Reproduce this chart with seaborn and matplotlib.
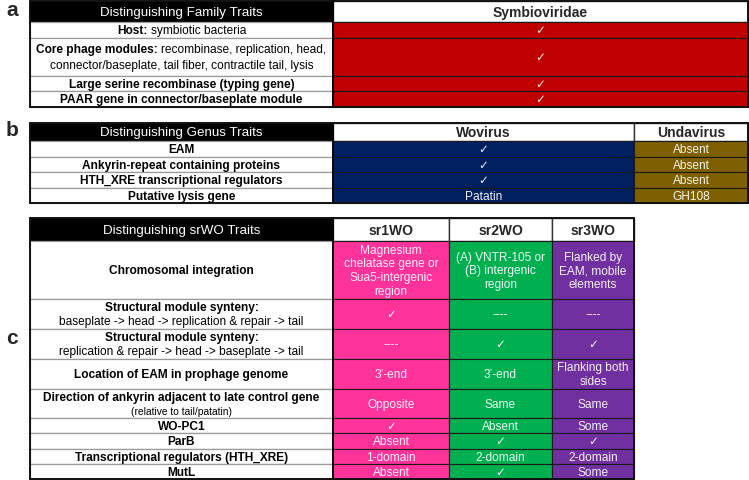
import numpy as np
import matplotlib
matplotlib.use("Agg")
import matplotlib.pyplot as plt
import seaborn as sns
from matplotlib.patches import Rectangle

sns.set_style("white")
plt.rcParams['font.family'] = ['Liberation Sans', 'DejaVu Sans']

CHECK = "\u2713"

# ---- DONNEES ----
# panel a : famille
family_header = "Distinguishing Family Traits"
family_cols = ["Symbioviridae"]
family_traits = [
    [[("Host:", "bold"), ("symbiotic bacteria", "normal")]],
    [[("Core phage modules:", "bold"), ("recombinase, replication, head,", "normal")],
     [("connector/baseplate, tail fiber, contractile tail, lysis", "normal")]],
    [[("Large serine recombinase (typing gene)", "bold")]],
    [[("PAAR gene in connector/baseplate module", "bold")]],
]
symbioviridae = [CHECK, CHECK, CHECK, CHECK]

# panel b : genres
genus_header = "Distinguishing Genus Traits"
genus_cols = ["Wovirus", "Undavirus"]
genus_traits = [
    [[("EAM", "bold")]],
    [[("Ankyrin-repeat containing proteins", "bold")]],
    [[("HTH_XRE transcriptional regulators", "bold")]],
    [[("Putative lysis gene", "bold")]],
]
wovirus = [CHECK, CHECK, CHECK, "Patatin"]
undavirus = ["Absent", "Absent", "Absent", "GH108"]

# panel c : srWO
srwo_header = "Distinguishing srWO Traits"
srwo_cols = ["sr1WO", "sr2WO", "sr3WO"]
srwo_traits = [
    [[("Chromosomal integration", "bold")]],
    [[("Structural module synteny:", "bold")],
     [("baseplate -> head -> replication & repair -> tail", "normal")]],
    [[("Structural module synteny:", "bold")],
     [("replication & repair -> head -> baseplate -> tail", "normal")]],
    [[("Location of EAM in prophage genome", "bold")]],
    [[("Direction of ankyrin adjacent to late control gene", "bold")],
     [("(relative to tail/patatin)", "small")]],
    [[("WO-PC1", "bold")]],
    [[("ParB", "bold")]],
    [[("Transcriptional regulators (HTH_XRE)", "bold")]],
    [[("MutL", "bold")]],
]
sr1wo = ["Magnesium\nchelatase gene or\nSua5-intergenic\nregion", CHECK, "----", "3\u2019-end",
         "Opposite", CHECK, "Absent", "1-domain", "Absent"]
sr2wo = ["(A) VNTR-105 or\n(B) intergenic\nregion", "----", CHECK, "3\u2019-end",
         "Same", "Absent", CHECK, "2-domain", CHECK]
sr3wo = ["Flanked by\nEAM, mobile\nelements", "----", CHECK, "Flanking both\nsides",
         "Same", "Some", CHECK, "2-domain", "Some"]

# couleurs
c_family = ["#C00000"]
c_genus = ["#002060", "#7F6000"]
c_srwo = ["#FF3399", "#00B050", "#7030A0"]

# ---- MISE EN PAGE (pixels) ----
W, H = 749, 480
fig = plt.figure(figsize=(W / 100, H / 100), dpi=100)
ax = fig.add_axes([0, 0, 1, 1])
ax.set_xlim(0, W)
ax.set_ylim(H, 0)
ax.axis("off")
renderer = fig.canvas.get_renderer()

LAB = 8.6     # taille texte lignes
HEAD = 9.6    # en-tete noir
COLH = 10.0   # en-tetes colonnes
VAL = 8.6
SMALL = 7.4
DY = 1.3      # petit decalage vertical du texte


def mixed_line(x, y, parts):
    '''ligne centree composee de morceaux gras / normaux'''
    objs = []
    for txt, w in parts:
        size = SMALL if w == "small" else LAB
        weight = "normal" if w == "small" else w
        objs.append(ax.text(0, y, txt, fontsize=size, fontweight=weight,
                            ha="left", va="center", color="black"))
    gap = 3.3
    widths = [o.get_window_extent(renderer).width for o in objs]
    total = sum(widths) + gap * (len(objs) - 1)
    pos = x - total / 2
    for o, wd in zip(objs, widths):
        o.set_x(pos)
        pos += wd + gap


def draw_table(cols_x, rows_y, header, col_names, traits, values, colors):
    x0, x1 = cols_x[0], cols_x[1]
    # en-tete
    ax.add_patch(Rectangle((x0, rows_y[0]), x1 - x0, rows_y[1] - rows_y[0],
                           facecolor="black", edgecolor="black", lw=1))
    ax.text((x0 + x1) / 2, (rows_y[0] + rows_y[1]) / 2 + DY, header, color="white",
            fontsize=HEAD, ha="center", va="center")
    for j, name in enumerate(col_names):
        a, b = cols_x[j + 1], cols_x[j + 2]
        ax.add_patch(Rectangle((a, rows_y[0]), b - a, rows_y[1] - rows_y[0],
                               facecolor="white", edgecolor="#333333", lw=1))
        ax.text((a + b) / 2, (rows_y[0] + rows_y[1]) / 2 + DY, name, fontsize=COLH,
                fontweight="bold", ha="center", va="center")
    # lignes
    for i, lines in enumerate(traits):
        top, bot = rows_y[i + 1], rows_y[i + 2]
        ax.add_patch(Rectangle((x0, top), x1 - x0, bot - top, facecolor="white",
                               edgecolor="#9a9a9a", lw=0.9))
        yc = (top + bot) / 2
        n = len(lines)
        step = min(16.0, (bot - top) / 2 - 1)
        for k, parts in enumerate(lines):
            yy = yc + (k - (n - 1) / 2) * step + DY
            mixed_line((x0 + x1) / 2, yy, parts)
        for j, col in enumerate(values):
            a, b = cols_x[j + 1], cols_x[j + 2]
            ax.add_patch(Rectangle((a, top), b - a, bot - top, facecolor=colors[j],
                                   edgecolor="#1a1a1a", lw=0.8))
            ax.text((a + b) / 2, yc + DY, col[i], color="white", fontsize=VAL,
                    ha="center", va="center", linespacing=1.2, alpha=0.92)
    # cadre
    ax.add_patch(Rectangle((x0, rows_y[0]), cols_x[-1] - x0, rows_y[-1] - rows_y[0],
                           facecolor="none", edgecolor="#111111", lw=1.4))
    ax.plot([x1, x1], [rows_y[0], rows_y[-1]], color="black", lw=1.4)


draw_table([30, 333, 748], [1, 22, 38, 76, 91, 107],
           family_header, family_cols, family_traits, [symbioviridae], c_family)
draw_table([30, 333, 634, 748], [123, 141, 157, 172, 188, 203],
           genus_header, genus_cols, genus_traits, [wovirus, undavirus], c_genus)
draw_table([30, 333, 449, 552, 634], [218, 241, 299, 329, 359, 389, 418, 433, 449, 464, 479],
           srwo_header, srwo_cols, srwo_traits, [sr1wo, sr2wo, sr3wo], c_srwo)

# lettres des panneaux
for lettre, yy in [("a", 11), ("b", 130), ("c", 338)]:
    ax.text(12, yy, lettre, fontsize=15, fontweight="bold", ha="center", va="center")

fig.savefig("out.png", dpi=100)
